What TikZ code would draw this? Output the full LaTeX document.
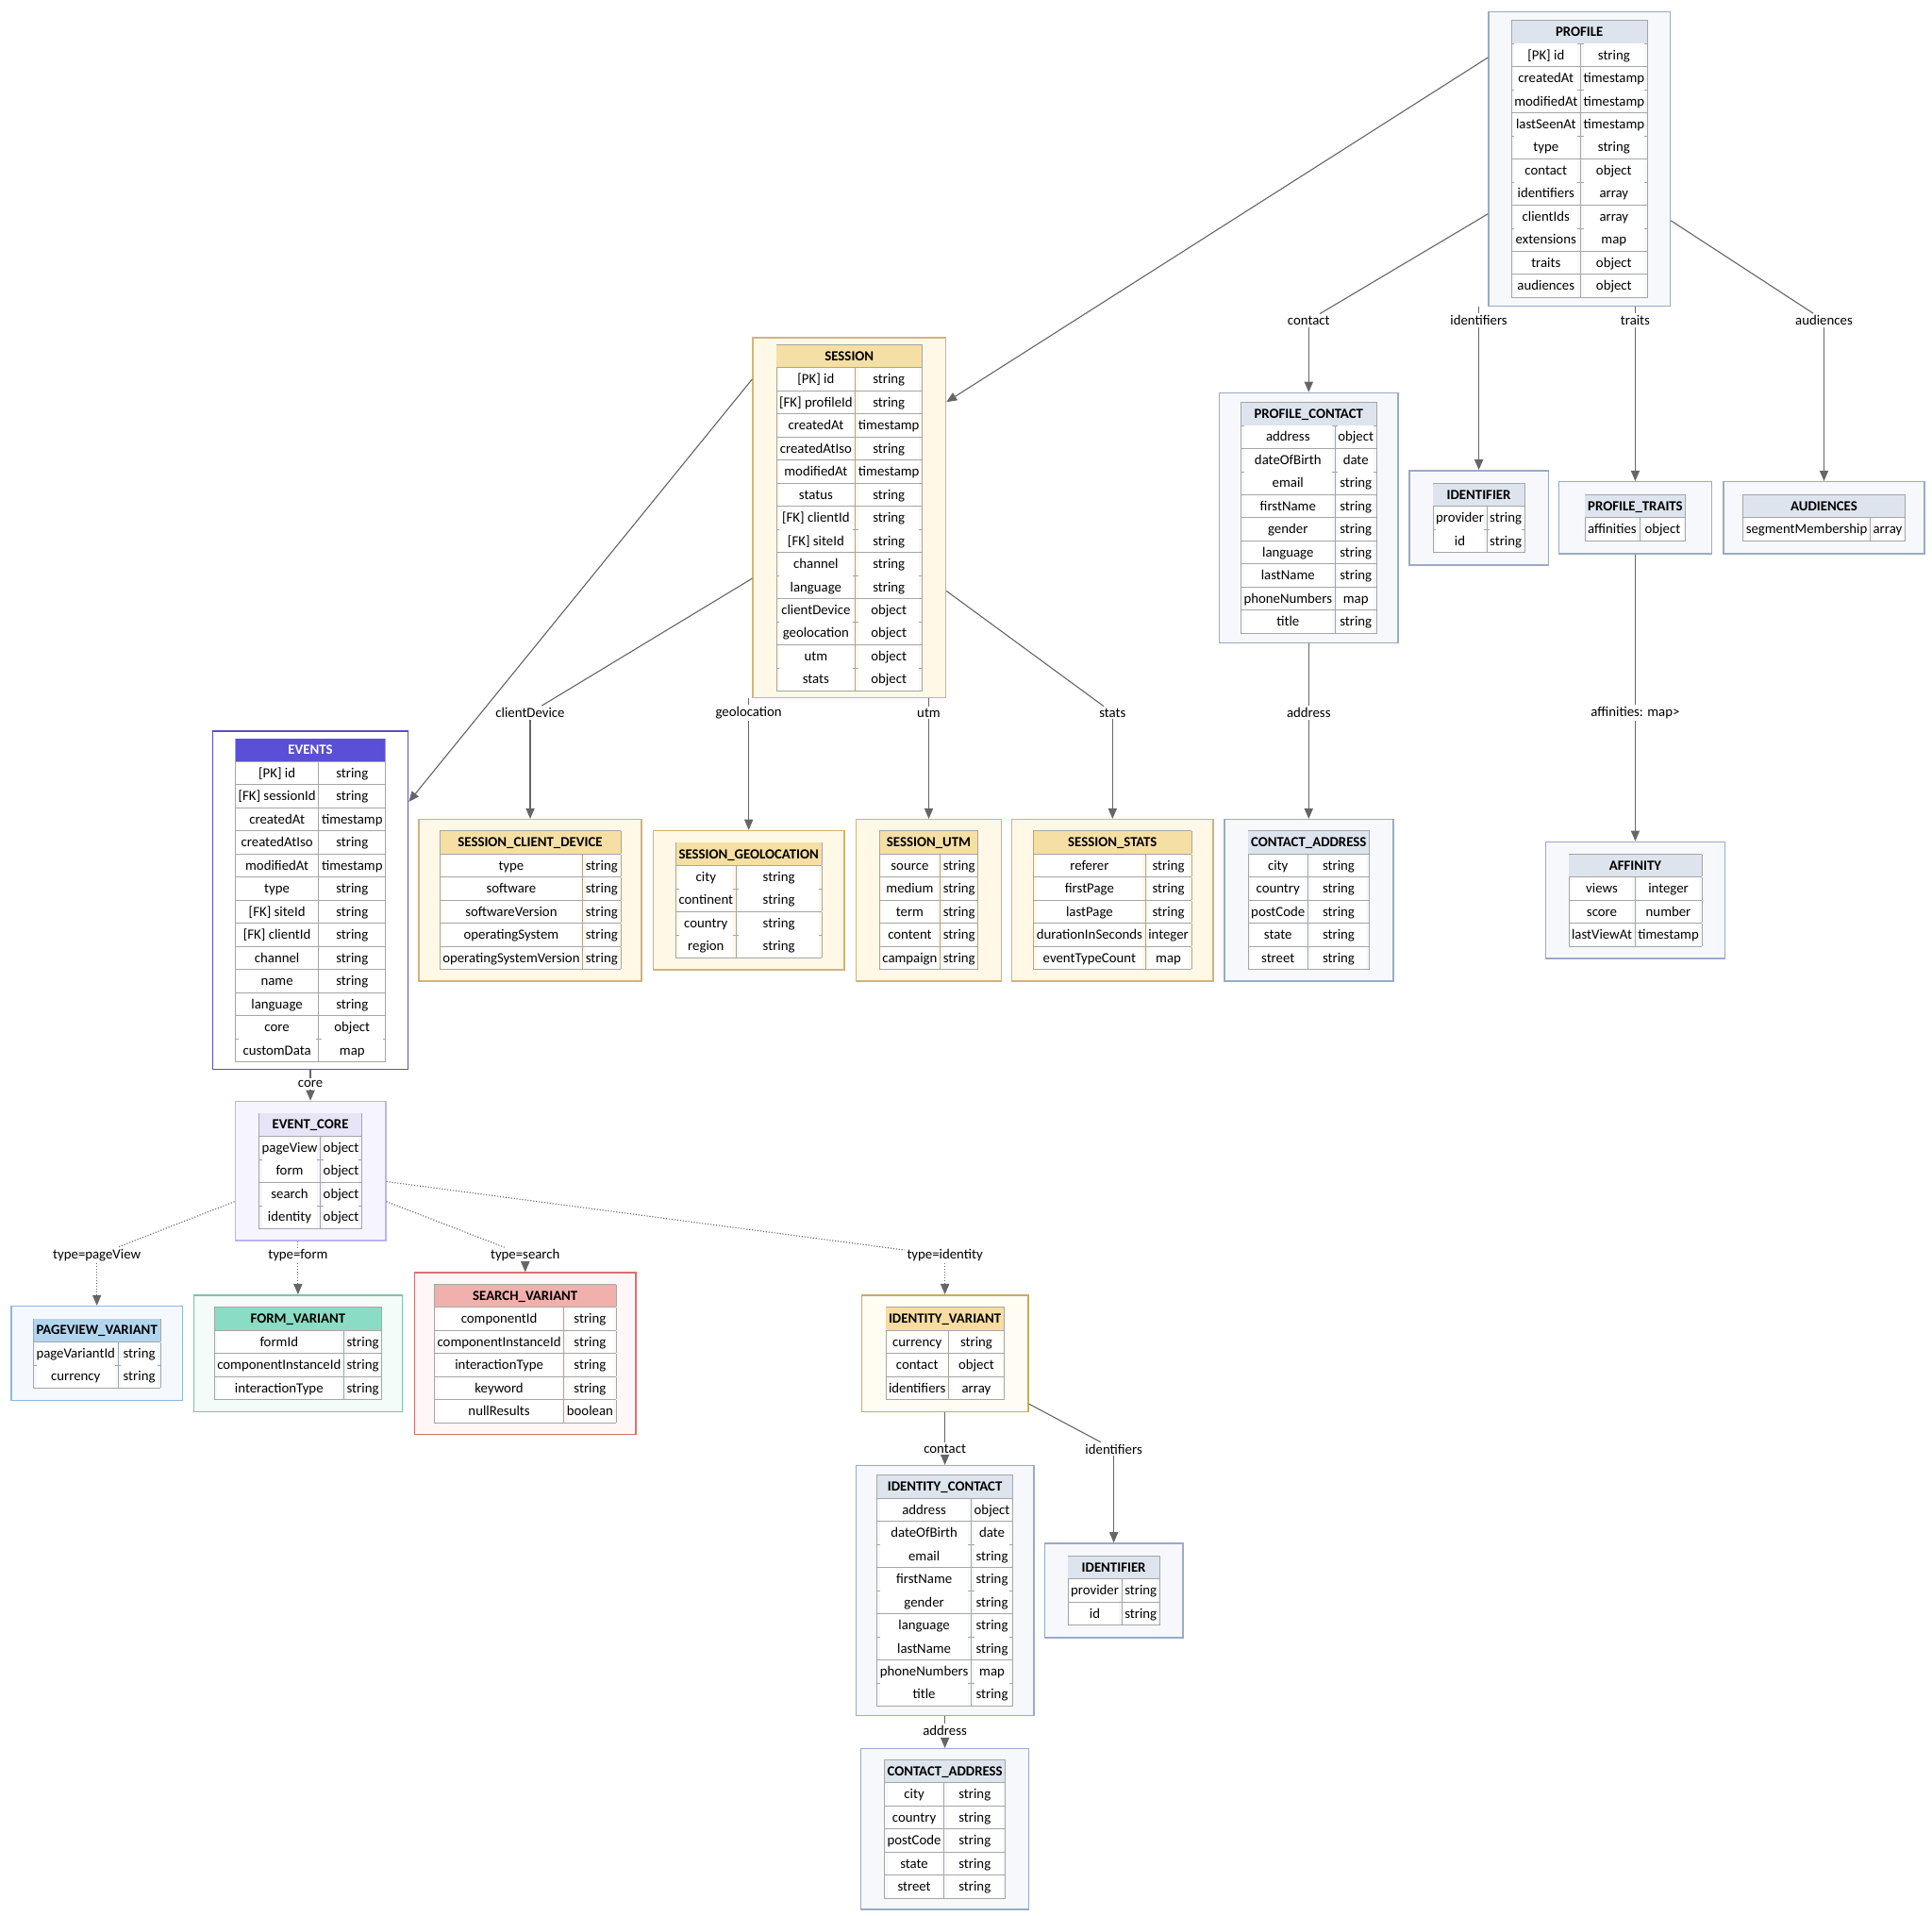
\documentclass[tikz,border=0pt]{standalone}
\usepackage[table]{xcolor}
\usepackage{fontspec}
\setmainfont{Carlito}
\usepackage{tikz}
\usetikzlibrary{positioning, arrows.meta}

\definecolor{gbor}{HTML}{9AAAC8}\definecolor{gfill}{HTML}{F6F8FB}\definecolor{ghdr}{HTML}{DDE4EE}
\definecolor{ybor}{HTML}{D4B27A}\definecolor{yfill}{HTML}{FFF8E7}\definecolor{yhdr}{HTML}{F6DFA5}
\definecolor{pbor}{HTML}{5B4CC4}\definecolor{phdr}{HTML}{5A4FD6}
\definecolor{lpbor}{HTML}{BDB3EE}\definecolor{lpfill}{HTML}{F6F4FF}\definecolor{lphdr}{HTML}{E8E4F8}
\definecolor{bbor}{HTML}{8DB8DD}\definecolor{bfill}{HTML}{F5F9FD}\definecolor{bhdr}{HTML}{B3D6F0}
\definecolor{tbor}{HTML}{7BC4A8}\definecolor{tfill}{HTML}{F3FCF8}\definecolor{thdr}{HTML}{8ADDC4}
\definecolor{rbor}{HTML}{D87070}\definecolor{rfill}{HTML}{FFF7F7}\definecolor{rhdr}{HTML}{F2B0AD}
\definecolor{obor}{HTML}{CBAB5E}\definecolor{ofill}{HTML}{FFFCF3}\definecolor{ohdr}{HTML}{F7DDA0}
\definecolor{edge}{HTML}{666666}

\arrayrulecolor{gray!70}
\setlength{\tabcolsep}{1.5pt}
\renewcommand{\arraystretch}{1.35}
\newcommand{\rw}[2]{\rowcolor{white}[0pt][0pt]#1 & #2\\\hline}
\newcommand{\tbl}[3]{\begin{tabular}{|c|c|}\hline\multicolumn{2}{|c|}{\cellcolor{#1}\textbf{#2}}\\\hline #3\end{tabular}}
\newcommand{\contactrows}{\rw{address}{object}\rw{dateOfBirth}{date}\rw{email}{string}\rw{firstName}{string}\rw{gender}{string}\rw{language}{string}\rw{lastName}{string}\rw{phoneNumbers}{map}\rw{title}{string}}
\newcommand{\addressrows}{\rw{city}{string}\rw{country}{string}\rw{postCode}{string}\rw{state}{string}\rw{street}{string}}

\begin{document}
\begin{tikzpicture}[x=0.025cm, y=-0.025cm, font=\fontsize{8}{9.5}\selectfont,
    ent/.style n args={4}{draw=#1, fill=#2, minimum width=#3cm, minimum height=#4cm, inner sep=0pt, line width=0.8pt},
    lbl/.style = {inner sep=1pt},
    rel/.style = {draw=edge, line width=0.6pt},
    arr/.style = {rel, -{Triangle[length=6pt, width=5pt]}},
    opt/.style = {rel, densely dotted}]
    \useasboundingbox (0,0) rectangle (1556,1543);

    % Entities
    \node[ent={gbor}{gfill}{3.65}{5.93}] (profile) at (1272,128) {\tbl{ghdr}{PROFILE}{\rw{[PK] id}{string}\rw{createdAt}{timestamp}\rw{modifiedAt}{timestamp}\rw{lastSeenAt}{timestamp}\rw{type}{string}\rw{contact}{object}\rw{identifiers}{array}\rw{clientIds}{array}\rw{extensions}{map}\rw{traits}{object}\rw{audiences}{object}}};
    \node[ent={ybor}{yfill}{3.88}{7.25}] (session) at (684,417) {\tbl{yhdr}{SESSION}{\rw{[PK] id}{string}\rw{[FK] profileId}{string}\rw{createdAt}{timestamp}\rw{createdAtIso}{string}\rw{modifiedAt}{timestamp}\rw{status}{string}\rw{[FK] clientId}{string}\rw{[FK] siteId}{string}\rw{channel}{string}\rw{language}{string}\rw{clientDevice}{object}\rw{geolocation}{object}\rw{utm}{object}\rw{stats}{object}}};
    \node[ent={pbor}{white}{3.93}{6.8}] (events) at (250,725) {\tbl{phdr}{\textcolor{white}{EVENTS}}{\rw{[PK] id}{string}\rw{[FK] sessionId}{string}\rw{createdAt}{timestamp}\rw{createdAtIso}{string}\rw{modifiedAt}{timestamp}\rw{type}{string}\rw{[FK] siteId}{string}\rw{[FK] clientId}{string}\rw{channel}{string}\rw{name}{string}\rw{language}{string}\rw{core}{object}\rw{customData}{map}}};
    \node[ent={gbor}{gfill}{3.6}{5.03}] (pcontact) at (1054,417) {\tbl{ghdr}{PROFILE\_CONTACT}{\contactrows}};
    \node[ent={gbor}{gfill}{2.8}{1.9}] (ident) at (1191,417) {\tbl{ghdr}{IDENTIFIER}{\rw{provider}{string}\rw{id}{string}}};
    \node[ent={gbor}{gfill}{3.08}{1.45}] (traits) at (1317,417) {\tbl{ghdr}{PROFILE\_TRAITS}{\rw{affinities}{object}}};
    \node[ent={gbor}{gfill}{4.05}{1.45}] (aud) at (1469,417) {\tbl{ghdr}{AUDIENCES}{\rw{segmentMembership}{array}}};
    \node[ent={ybor}{yfill}{4.48}{3.25}] (device) at (427,725) {\tbl{yhdr}{SESSION\_CLIENT\_DEVICE}{\rw{type}{string}\rw{software}{string}\rw{softwareVersion}{string}\rw{operatingSystem}{string}\rw{operatingSystemVersion}{string}}};
    \node[ent={ybor}{yfill}{3.85}{2.8}] (geo) at (603,725) {\tbl{yhdr}{SESSION\_GEOLOCATION}{\rw{city}{string}\rw{continent}{string}\rw{country}{string}\rw{region}{string}}};
    \node[ent={ybor}{yfill}{2.93}{3.25}] (utm) at (748,725) {\tbl{yhdr}{SESSION\_UTM}{\rw{source}{string}\rw{medium}{string}\rw{term}{string}\rw{content}{string}\rw{campaign}{string}}};
    \node[ent={ybor}{yfill}{4.05}{3.25}] (stats) at (896,725) {\tbl{yhdr}{SESSION\_STATS}{\rw{referer}{string}\rw{firstPage}{string}\rw{lastPage}{string}\rw{durationInSeconds}{integer}\rw{eventTypeCount}{map}}};
    \node[ent={gbor}{gfill}{3.4}{3.25}] (paddr) at (1054,725) {\tbl{ghdr}{CONTACT\_ADDRESS}{\addressrows}};
    \node[ent={gbor}{gfill}{3.6}{2.35}] (affinity) at (1317,725) {\tbl{ghdr}{AFFINITY}{\rw{views}{integer}\rw{score}{number}\rw{lastViewAt}{timestamp}}};
    \node[ent={lpbor}{lpfill}{3.03}{2.8}] (core) at (250,943) {\tbl{lphdr}{EVENT\_CORE}{\rw{pageView}{object}\rw{form}{object}\rw{search}{object}\rw{identity}{object}}};
    \node[ent={bbor}{bfill}{3.45}{1.9}] (pageview) at (78,1090) {\tbl{bhdr}{PAGEVIEW\_VARIANT}{\rw{pageVariantId}{string}\rw{currency}{string}}};
    \node[ent={tbor}{tfill}{4.2}{2.35}] (form) at (240,1090) {\tbl{thdr}{FORM\_VARIANT}{\rw{formId}{string}\rw{componentInstanceId}{string}\rw{interactionType}{string}}};
    \node[ent={rbor}{rfill}{4.45}{3.25}] (search) at (423,1090) {\tbl{rhdr}{SEARCH\_VARIANT}{\rw{componentId}{string}\rw{componentInstanceId}{string}\rw{interactionType}{string}\rw{keyword}{string}\rw{nullResults}{boolean}}};
    \node[ent={obor}{ofill}{3.35}{2.35}] (identity) at (761,1090) {\tbl{ohdr}{IDENTITY\_VARIANT}{\rw{currency}{string}\rw{contact}{object}\rw{identifiers}{array}}};
    \node[ent={gbor}{gfill}{3.58}{5.03}] (icontact) at (761,1281) {\tbl{ghdr}{IDENTITY\_CONTACT}{\contactrows}};
    \node[ent={gbor}{gfill}{2.78}{1.9}] (iident) at (897,1281) {\tbl{ghdr}{IDENTIFIER}{\rw{provider}{string}\rw{id}{string}}};
    \node[ent={gbor}{gfill}{3.38}{3.23}] (iaddr) at (761,1473) {\tbl{ghdr}{CONTACT\_ADDRESS}{\addressrows}};

    % Labels
    \node[lbl] (lContact) at (1054,258) {contact};
    \node[lbl] (lIdent) at (1191,258) {identifiers};
    \node[lbl] (lTraits) at (1317,258) {traits};
    \node[lbl] (lAud) at (1469,258) {audiences};
    \node[lbl] (lDevice) at (427,574) {clientDevice};
    \node[lbl] (lGeo) at (603,574) {geolocation};
    \node[lbl] (lUtm) at (748,574) {utm};
    \node[lbl] (lStats) at (896,574) {stats};
    \node[lbl] (lAddr) at (1054,574) {address};
    \node[lbl] (lAff) at (1317,574) {affinities: map>};
    \node[lbl] (lCore) at (250,873) {core};
    \node[lbl] (lPv) at (78,1011) {type=pageView};
    \node[lbl] (lForm) at (240,1011) {type=form};
    \node[lbl] (lSearch) at (423,1011) {type=search};
    \node[lbl] (lIdty) at (761,1011) {type=identity};
    \node[lbl] (lIcontact) at (761,1167) {contact};
    \node[lbl] (lIident) at (897,1167) {identifiers};
    \node[lbl] (lIaddr) at (761,1394) {address};

    % Lines
    \draw[arr] (profile.132) -- (session.50);
    \draw[arr] (session.125) -- (events.45);
    \draw[rel] (profile.211) -- (lContact);  \draw[arr] (lContact) -- (pcontact.north);
    \draw[rel] (profile.south -| lIdent) -- (lIdent);  \draw[arr] (lIdent) -- (ident.north);
    \draw[rel] (profile.south -| lTraits) -- (lTraits);  \draw[arr] (lTraits) -- (traits.north);
    \draw[rel] (profile.326) -- (lAud);  \draw[arr] (lAud) -- (aud.north);
    \draw[rel] (session.212) -- (lDevice);  \draw[arr] (lDevice) -- (device.north);
    \draw[rel] (session.south -| lGeo) -- (lGeo);  \draw[arr] (lGeo) -- (geo.north);
    \draw[rel] (session.south -| lUtm) -- (lUtm);  \draw[arr] (lUtm) -- (utm.north);
    \draw[rel] (session.323) -- (lStats);  \draw[arr] (lStats) -- (stats.north);
    \draw[rel] (pcontact.south) -- (lAddr);  \draw[arr] (lAddr) -- (paddr.north);
    \draw[rel] (traits.south) -- (lAff);  \draw[arr] (lAff) -- (affinity.north);
    \draw[rel] (events.south) -- (lCore);  \draw[arr] (lCore) -- (core.north);
    \draw[opt] (core.202.6) -- (lPv);  \draw[opt, arr] (lPv) -- (pageview.north);
    \draw[opt] (core.south -| lForm) -- (lForm);  \draw[opt, arr] (lForm) -- (form.north);
    \draw[opt] (core.338) -- (lSearch);  \draw[opt, arr] (lSearch) -- (search.north);
    \draw[opt] (core.352) -- (lIdty);  \draw[opt, arr] (lIdty) -- (identity.north);
    \draw[rel] (identity.south) -- (lIcontact);  \draw[arr] (lIcontact) -- (icontact.north);
    \draw[rel] (identity.329) -- (lIident);  \draw[arr] (lIident) -- (iident.north);
    \draw[rel] (icontact.south) -- (lIaddr);  \draw[arr] (lIaddr) -- (iaddr.north);
\end{tikzpicture}
\end{document}
